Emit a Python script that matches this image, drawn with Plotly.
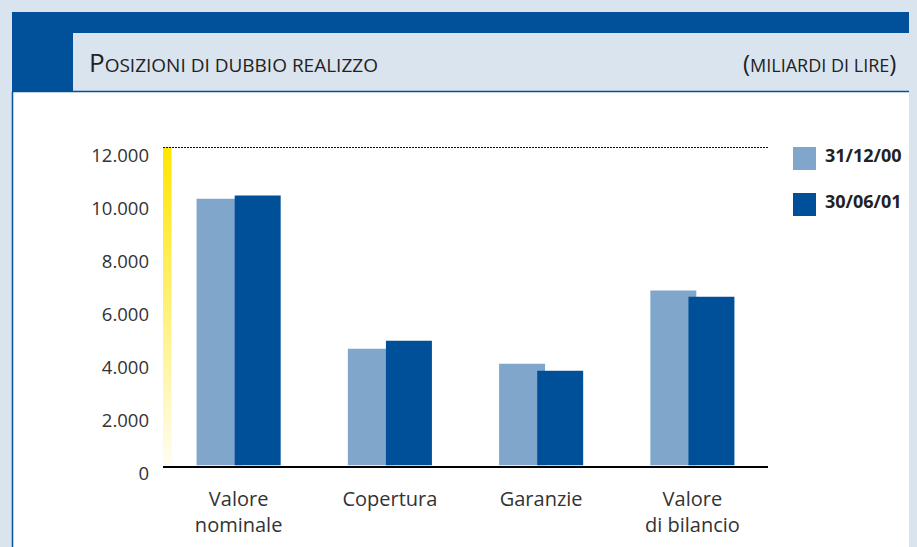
import plotly.graph_objects as go

categories = ["Valore<br>nominale", "Copertura", "Garanzie", "Valore<br>di bilancio"]
series_names = ["31/12/00", "30/06/01"]
values_dic00 = [10050, 4400, 3830, 6590]
values_giu01 = [10170, 4700, 3570, 6360]
y_ticks = [0, 2000, 4000, 6000, 8000, 10000, 12000]

LIGHT = "#80a6cb"
DARK = "#005099"
FRAME = "#00509a"
PALE = "#dae4ef"
FONT = "Open Sans"

# the page body keeps its default 8px margin, so screen px = figure px + 8
OFF = 8
W, H = 917, 547
ML, MR, MT, MB = 163 - OFF, W - (768 - OFF), 147 - OFF, H - (474 - OFF)
PW = W - ML - MR
PH = H - MT - MB


def px_x(px):
    # screen pixel -> paper x
    return (px - OFF - ML) / PW


def px_y(py):
    # screen pixel -> paper y
    return (H - MB - (py - OFF)) / PH


fig = go.Figure()

# yellow gradient strip on the left of the plot
grad_y = [i * 100 for i in range(121)]
fig.add_trace(go.Heatmap(
    x=[0], y=grad_y, z=[[v] for v in grad_y],
    colorscale=[[0, "#fffdf2"], [1, "#ffe500"]],
    showscale=False, zsmooth="best", hoverinfo="skip",
    xaxis="x3", yaxis="y",
))

fig.add_trace(go.Bar(
    x=categories, y=values_dic00, name=series_names[0],
    marker=dict(color=LIGHT, line=dict(width=0)),
    width=0.304, offset=-0.278, showlegend=False,
))
fig.add_trace(go.Bar(
    x=categories, y=values_giu01, name=series_names[1],
    marker=dict(color=DARK, line=dict(width=0)),
    width=0.304, offset=-0.026, showlegend=False,
))

# invisible trace carrying the (slightly lowered) tick label axis
fig.add_trace(go.Scatter(
    x=[categories[0]], y=[0], mode="markers", marker=dict(opacity=0),
    yaxis="y2", hoverinfo="skip", showlegend=False,
))

y_bottom = px_y(465.5)

shapes = [
    # content area and frame
    dict(type="rect", xref="paper", yref="paper", x0=px_x(13), x1=px_x(W + 20), y0=px_y(H + 20), y1=px_y(92),
         fillcolor="white", line=dict(width=0), layer="below"),
    dict(type="rect", xref="paper", yref="paper", x0=px_x(12), x1=px_x(W + 20), y0=px_y(33), y1=px_y(12),
         fillcolor=FRAME, line=dict(width=0), layer="below"),
    dict(type="rect", xref="paper", yref="paper", x0=px_x(12), x1=px_x(73), y0=px_y(92), y1=px_y(12),
         fillcolor=FRAME, line=dict(width=0), layer="below"),
    dict(type="line", xref="paper", yref="paper", x0=px_x(12), x1=px_x(W + 20), y0=px_y(91.5), y1=px_y(91.5),
         line=dict(color=FRAME, width=1.5), layer="below"),
    dict(type="line", xref="paper", yref="paper", x0=px_x(12.5), x1=px_x(12.5), y0=px_y(H + 20), y1=px_y(92),
         line=dict(color=FRAME, width=1.5), layer="below"),
    # dotted top line
    dict(type="line", xref="paper", yref="y", x0=0, x1=1, y0=12000, y1=12000,
         line=dict(color="#111111", width=2, dash="2px,1px")),
]

annotations = [
    dict(text="<span style='font-size:26px'>P</span>OSIZIONI DI DUBBIO REALIZZO",
         xref="paper", yref="paper", x=px_x(87), y=px_y(62), xanchor="left", yanchor="middle",
         showarrow=False, font=dict(family=FONT, size=19, color="#222222")),
    dict(text="<span style='font-size:24px'>(</span>MILIARDI DI LIRE<span style='font-size:24px'>)</span>",
         xref="paper", yref="paper", x=px_x(898), y=px_y(62), xanchor="right", yanchor="middle",
         showarrow=False, font=dict(family=FONT, size=18, color="#222222")),
]

# legend swatches and labels
for i, (name, col) in enumerate(zip(series_names, [LIGHT, DARK])):
    top = 147 + i * 46
    shapes.append(dict(type="rect", xref="paper", yref="paper",
                       x0=px_x(793), x1=px_x(816), y0=px_y(top + 23), y1=px_y(top),
                       fillcolor=col, line=dict(width=0)))
    annotations.append(dict(text="<b>" + name + "</b>", xref="paper", yref="paper",
                            x=px_x(823), y=px_y(top + 8), xanchor="left", yanchor="middle",
                            showarrow=False, font=dict(family=FONT, size=18, color="#222222")))

fig.update_layout(
    width=W, height=H,
    autosize=False,
    margin=dict(l=ML, r=MR, t=MT, b=MB, pad=0),
    paper_bgcolor=PALE,
    plot_bgcolor="rgba(0,0,0,0)",
    separators=",.",
    showlegend=False,
    barmode="overlay",
    shapes=shapes,
    annotations=annotations,
    font=dict(family=FONT, color="#333333"),
    xaxis=dict(
        domain=[0, 1], range=[-0.5, 3.5], showline=True, linecolor="black", linewidth=2,
        showgrid=False, zeroline=False, ticks="", tickfont=dict(size=20, color="#333333"),
        ticklabelstandoff=14, automargin=False, fixedrange=True,
    ),
    xaxis3=dict(domain=[0, 8.5 / PW], range=[-0.5, 0.5], anchor="y", visible=False, fixedrange=True),
    yaxis=dict(
        domain=[y_bottom, 1], range=[0, 12000], showticklabels=False, showgrid=False,
        zeroline=False, showline=False, ticks="", automargin=False, fixedrange=True,
    ),
    yaxis2=dict(
        domain=[0, 1 - y_bottom], range=[0, 12000], anchor="free", position=0, side="left",
        tickvals=y_ticks, tickformat=",", showgrid=False, zeroline=False, showline=False,
        ticks="", ticklabelstandoff=14, tickfont=dict(size=18.5, color="#333333"),
        automargin=False, fixedrange=True,
    ),
)

fig.write_html(
    "out.html",
    config={"displayModeBar": False},
    post_script="document.body.style.background='%s';" % PALE,
)
